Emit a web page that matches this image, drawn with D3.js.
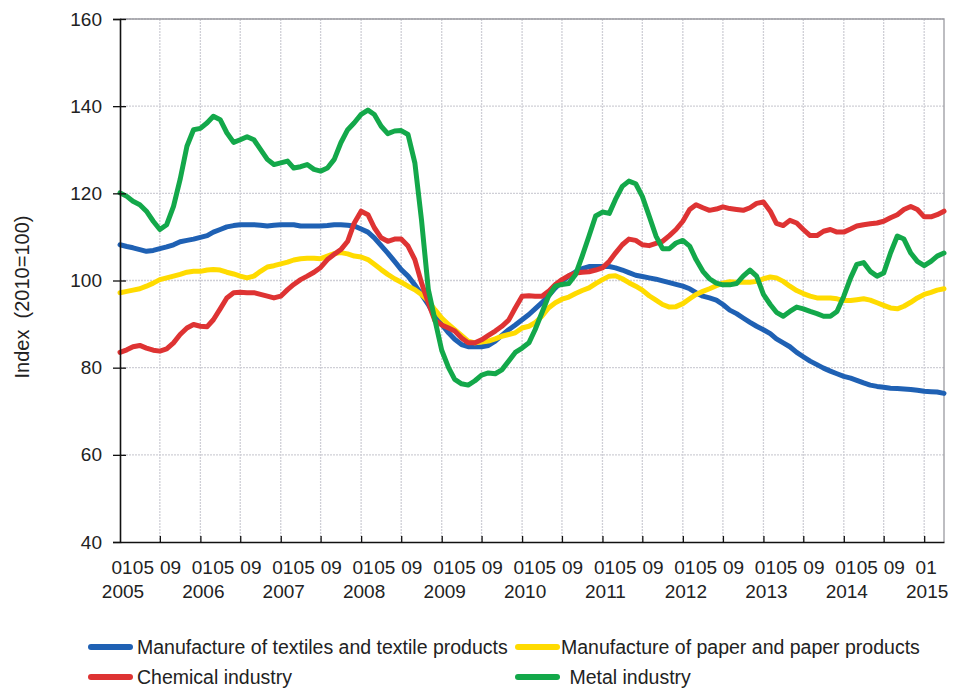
<!DOCTYPE html>
<html>
<head>
<meta charset="utf-8">
<script src="https://cdn.jsdelivr.net/npm/d3@7"></script>
<style>
  body { margin: 0; background: #fff; }
  svg { display: block; }
  text { font-family: "Liberation Sans", Arial, sans-serif; fill: #222; }
</style>
</head>
<body>
<div id="chart-area"></div>
<script>
// monthly index values, 2005-01 .. 2015-04 (124 months)
const startYear = 2005;
const textiles = [
  108.2, 107.8, 107.5, 107.1, 106.7, 106.9, 107.3, 107.7, 108.2, 108.9, 109.2, 109.5,
  109.9, 110.3, 111.1, 111.7, 112.3, 112.6, 112.8, 112.8, 112.8, 112.7, 112.5, 112.7,
  112.8, 112.8, 112.8, 112.5, 112.5, 112.5, 112.5, 112.6, 112.8, 112.8, 112.7, 112.5,
  111.8, 111.1, 109.8, 108.0, 106.3, 104.4, 102.5, 101.0, 99.0, 96.8, 94.5, 91.8,
  89.9, 88.0, 86.5, 85.3, 84.8, 84.8, 84.8, 85.1, 86.1, 87.4, 88.7, 89.8,
  91.0, 92.2, 93.5, 94.9, 96.5, 98.3, 99.8, 101.0, 102.0, 102.7, 103.2, 103.2,
  103.2, 103.2, 102.9, 102.4, 101.8, 101.2, 100.9, 100.6, 100.3, 99.9, 99.5, 99.1,
  98.7, 98.1, 97.2, 96.4, 96.0, 95.5, 94.5, 93.2, 92.4, 91.4, 90.4, 89.5,
  88.7, 87.8, 86.6, 85.7, 84.8, 83.5, 82.5, 81.5, 80.7, 79.9, 79.2, 78.6,
  78.0, 77.6, 77.1, 76.5, 76.0, 75.7, 75.5, 75.3, 75.2, 75.1, 75.0, 74.8,
  74.6, 74.5, 74.4, 74.1
];
const paper = [
  97.2, 97.5, 97.8, 98.1, 98.7, 99.4, 100.2, 100.6, 101.0, 101.4, 101.9, 102.1,
  102.1, 102.4, 102.5, 102.4, 101.9, 101.5, 101.0, 100.6, 101.0, 102.1, 103.1, 103.4,
  103.8, 104.2, 104.7, 105.0, 105.1, 105.1, 105.0, 105.6, 106.2, 106.4, 106.1, 105.6,
  105.4, 104.8, 103.7, 102.5, 101.4, 100.4, 99.6, 98.7, 97.9, 96.8, 95.3, 93.3,
  91.4, 89.9, 88.7, 87.4, 86.1, 85.7, 85.9, 86.1, 86.6, 87.2, 87.6, 88.0,
  89.1, 89.5, 90.3, 91.8, 93.7, 94.9, 95.7, 96.2, 97.0, 97.7, 98.3, 99.3,
  100.2, 101.0, 101.1, 100.4, 99.5, 98.7, 97.8, 96.5, 95.5, 94.5, 93.9, 94.0,
  94.7, 95.8, 96.8, 97.5, 98.1, 98.8, 99.4, 99.7, 99.6, 99.6, 99.6, 99.8,
  100.4, 100.8, 100.6, 99.8, 98.7, 97.7, 97.0, 96.4, 96.0, 96.0, 96.0, 95.8,
  95.4, 95.4, 95.6, 95.8, 95.5, 94.9, 94.3, 93.7, 93.5, 94.1, 95.0, 96.0,
  96.8, 97.3, 97.8, 98.1
];
const chemical = [
  83.5, 84.1, 84.8, 85.1, 84.5, 84.0, 83.8, 84.3, 85.7, 87.6, 89.1, 89.9,
  89.5, 89.4, 91.0, 93.5, 96.0, 97.2, 97.3, 97.2, 97.2, 96.8, 96.4, 96.0,
  96.4, 97.9, 99.1, 100.2, 101.0, 101.9, 103.0, 104.8, 106.0, 107.1, 109.0, 113.2,
  115.9, 115.1, 112.1, 109.8, 109.0, 109.5, 109.5, 107.9, 104.8, 99.5, 94.9, 90.8,
  89.8, 89.1, 88.4, 86.8, 85.7, 85.7, 86.4, 87.4, 88.4, 89.5, 90.9, 93.7,
  96.4, 96.5, 96.4, 96.4, 97.5, 99.1, 100.2, 101.1, 101.7, 101.9, 102.0, 102.4,
  102.9, 104.4, 106.3, 108.2, 109.5, 109.2, 108.2, 108.0, 108.5, 109.0, 110.3, 111.7,
  113.6, 116.3, 117.4, 116.7, 116.1, 116.4, 116.9, 116.5, 116.3, 116.1, 116.7, 117.7,
  118.0, 115.9, 113.1, 112.6, 113.8, 113.2, 111.7, 110.3, 110.3, 111.3, 111.7, 111.1,
  111.1, 111.8, 112.5, 112.8, 113.0, 113.2, 113.6, 114.4, 115.1, 116.3, 117.0, 116.3,
  114.6, 114.6, 115.1, 115.9
];
const metal = [
  120.1, 119.3, 118.2, 117.4, 115.9, 113.6, 111.7, 112.8, 117.0, 123.2, 130.8, 134.6,
  134.9, 136.2, 137.7, 136.9, 133.9, 131.7, 132.3, 133.0, 132.3, 130.1, 127.8, 126.6,
  127.0, 127.4, 125.8, 126.1, 126.6, 125.5, 125.1, 125.8, 127.8, 131.6, 134.6, 136.2,
  138.1, 139.1, 138.1, 135.4, 133.7, 134.3, 134.4, 133.5, 127.0, 114.0, 98.0, 91.0,
  84.0, 80.0, 77.3, 76.3, 76.0, 77.0, 78.3, 78.8, 78.6, 79.5, 81.5, 83.5,
  84.5, 85.7, 88.7, 92.6, 96.4, 98.7, 99.1, 99.3, 101.4, 105.6, 110.2, 114.8,
  115.7, 115.4, 118.6, 121.6, 122.8, 122.2, 119.3, 114.8, 110.2, 107.3, 107.3, 108.6,
  109.2, 107.9, 104.8, 102.1, 100.4, 99.4, 99.0, 99.0, 99.3, 101.0, 102.4, 101.0,
  96.8, 94.5, 92.7, 91.8, 92.9, 93.9, 93.5, 92.9, 92.4, 91.8, 91.8, 92.9,
  96.4, 100.6, 103.7, 104.1, 102.1, 101.0, 101.7, 106.3, 110.2, 109.5, 106.3, 104.4,
  103.4, 104.4, 105.6, 106.3
];
const seriesNames = [
  "Manufacture of textiles and textile products",
  "Manufacture of paper and paper products",
  "Chemical industry",
  " Metal industry"
];
const seriesColors = ["#1f61b4", "#ffdb00", "#de3333", "#13a84a"];
const yTicks = [40, 60, 80, 100, 120, 140, 160];
const monthLabels = ["01", "05", "09"];
const yearLabels = d3.range(2005, 2016);

const width = 955;
const height = 690;
const margin = { top: 19, right: 11, bottom: 148, left: 120 };

const svg = d3
  .select("#chart-area")
  .append("svg")
  .attr("width", width)
  .attr("height", height);

const dates = textiles.map((d, i) => new Date(startYear, i, 1));

const x = d3
  .scaleTime()
  .domain([dates[0], dates[dates.length - 1]])
  .range([margin.left, width - margin.right]);

const y = d3
  .scaleLinear()
  .domain([40, 160])
  .range([height - margin.bottom, margin.top]);

const gridMonths = d3.timeMonth.every(6).range(dates[0], dates[dates.length - 1]);

// grid
const grid = svg.append("g").attr("class", "grid");
grid
  .selectAll("line.h")
  .data(yTicks.slice(1))
  .join("line")
  .attr("class", "h")
  .attr("x1", margin.left)
  .attr("x2", width - margin.right)
  .attr("y1", (d) => y(d))
  .attr("y2", (d) => y(d))
  .attr("stroke", "#cfcfd6")
  .attr("stroke-width", 1.3)
  .attr("stroke-dasharray", "2,1");
grid
  .selectAll("line.v")
  .data(gridMonths.slice(1))
  .join("line")
  .attr("class", "v")
  .attr("x1", (d) => x(d))
  .attr("x2", (d) => x(d))
  .attr("y1", margin.top)
  .attr("y2", y(40))
  .attr("stroke", "#cfcfd6")
  .attr("stroke-width", 1.3)
  .attr("stroke-dasharray", "2,1");

// frame top and right
svg
  .append("path")
  .attr("d", `M${margin.left},${margin.top}H${width - margin.right}V${y(40)}`)
  .attr("fill", "none")
  .attr("stroke", "#9a9aa0")
  .attr("stroke-width", 1.3);

// lines
const line = d3
  .line()
  .x((d, i) => x(dates[i]))
  .y((d) => y(d));

const allSeries = [textiles, paper, chemical, metal];
svg
  .append("g")
  .selectAll("path")
  .data(allSeries)
  .join("path")
  .attr("d", line)
  .attr("fill", "none")
  .attr("stroke", (d, i) => seriesColors[i])
  .attr("stroke-width", 5)
  .attr("stroke-linejoin", "round")
  .attr("stroke-linecap", "round");

// y axis
const yAxis = svg
  .append("g")
  .attr("transform", `translate(${margin.left},0)`)
  .call(d3.axisLeft(y).tickValues(yTicks).tickSize(7).tickPadding(11));
yAxis.select(".domain").attr("stroke", "#111").attr("stroke-width", 1.6);
yAxis.selectAll(".tick line").attr("stroke", "#111").attr("stroke-width", 1.3);
yAxis.selectAll(".tick text").attr("font-size", 19).attr("fill", "#222").attr("font-family", null);
svg
  .append("g")
  .attr("transform", `translate(${margin.left},0)`)
  .call(d3.axisRight(y).tickValues(yTicks.slice(1)).tickSize(6).tickFormat(""))
  .call((g) => g.select(".domain").remove())
  .selectAll(".tick line")
  .attr("stroke", "#111")
  .attr("stroke-width", 1.3);

// x axis
const xAxis = svg
  .append("g")
  .attr("transform", `translate(0,${y(40)})`)
  .call(d3.axisBottom(x).tickValues(gridMonths.slice(1)).tickSize(-6).tickSizeOuter(0).tickFormat(""));
xAxis.select(".domain").attr("stroke", "#111").attr("stroke-width", 1.6);
xAxis.selectAll(".tick line").attr("stroke", "#111").attr("stroke-width", 1.3);

// month and year labels
const monthOffset = { "01": 2, "05": -3, "09": -3 };
const monthTicks = [];
yearLabels.forEach((yr) => {
  monthLabels.forEach((m) => {
    const dt = new Date(yr, +m - 1, 1);
    if (dt <= dates[dates.length - 1]) monthTicks.push({ dt, m });
  });
});
svg
  .append("g")
  .selectAll("text")
  .data(monthTicks)
  .join("text")
  .attr("x", (d) => x(d.dt) + monthOffset[d.m])
  .attr("y", 567)
  .attr("dy", "0.35em")
  .attr("text-anchor", "middle")
  .attr("font-size", 19)
  .text((d) => d.m);
svg
  .append("g")
  .selectAll("text")
  .data(yearLabels)
  .join("text")
  .attr("x", (d) => x(new Date(d, 0, 1)) + 3)
  .attr("y", 591)
  .attr("dy", "0.35em")
  .attr("text-anchor", "middle")
  .attr("font-size", 19)
  .text((d) => d);

// y title
svg
  .append("text")
  .attr("transform", "translate(22,297) rotate(-90)")
  .attr("text-anchor", "middle")
  .attr("dy", "0.35em")
  .attr("font-size", 20)
  .style("white-space", "pre")
  .text("Index  (2010=100)");

// legend
const legendPos = [
  { x: 88, y: 647, tx: 137 },
  { x: 515, y: 647, tx: 561 },
  { x: 88, y: 677, tx: 137 },
  { x: 515, y: 677, tx: 564 }
];
const legend = svg
  .append("g")
  .selectAll("g")
  .data(seriesNames)
  .join("g")
  .attr("transform", (d, i) => `translate(0,${legendPos[i].y})`);
legend
  .append("line")
  .attr("x1", (d, i) => legendPos[i].x + 3)
  .attr("x2", (d, i) => legendPos[i].x + 42)
  .attr("stroke", (d, i) => seriesColors[i])
  .attr("stroke-width", 6)
  .attr("stroke-linecap", "round");
legend
  .append("text")
  .attr("x", (d, i) => legendPos[i].tx)
  .attr("dy", "0.35em")
  .attr("font-size", 19.5)
  .style("white-space", "pre")
  .text((d) => d);
</script>
</body>
</html>
